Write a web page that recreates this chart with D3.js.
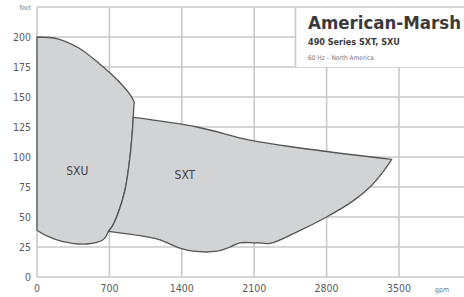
<!DOCTYPE html>
<head>
<meta charset="utf-8">
<style>
body { margin:0; background:#fff; }
svg { font-family: "DejaVu Sans Condensed", "Open Sans", sans-serif; }
.grid line { stroke:#c9c9c9; stroke-width:1.6; }
.area { fill:#d2d3d5; stroke:#555; stroke-width:1.3; stroke-linejoin:round; }
</style>
</head>
<body>
<script src="https://cdn.jsdelivr.net/npm/d3@7"></script>
<script type="text/javascript">

var width = 464, height = 297;

// axis ticks
var xTicks = [0, 700, 1400, 2100, 2800, 3500];
var yTicks = [0, 25, 50, 75, 100, 125, 150, 175, 200];

// SXU outline: left edge, top curve, shared border, bottom
var sxuLeft = [[0,39],[0,200]];
var sxuTop = [[0,200],[200,198.5],[400,191],[600,178],[780,164],[900,152],[940,146]];
var border = [[940,146],[930,133],[925,125],[899,100],[851,72.5],[783,53],[725,42],[690,38]];
var sxuBottom = [[690,38],[638,31],[483,27.5],[251,29.5],[100,34],[0,39]];

// SXT outline: top line to the tip then round the bottom back to the border
var sxtTop = [[930,133],[1547,125],[2060,114],[2543,107.5],[3430,98]];
var sxtBottom = [[3430,98],[3340,87],[3220,75],[3050,63],[2800,50],[2500,37],
  [2253,28],[2150,28.5],[2089,28.5],[1963,28.5],[1866,25],[1740,21.5],[1508,21.5],[1383,24],[1189,31],[1093,33],[690,38]];

var x = d3.scaleLinear().domain([0, 3500]).range([37, 399]);
var y = d3.scaleLinear().domain([0, 225]).range([277, 7]);

var svg = d3.select("body").append("svg")
  .attr("width", width).attr("height", height);

// grid
var grid = svg.append("g").attr("class", "grid");
grid.selectAll(".h").data(yTicks.concat([225])).enter().append("line")
  .attr("x1", x(0)).attr("x2", width)
  .attr("y1", function(d){ return y(d); }).attr("y2", function(d){ return y(d); });
grid.selectAll(".v").data(xTicks).enter().append("line")
  .attr("x1", function(d){ return x(d); }).attr("x2", function(d){ return x(d); })
  .attr("y1", y(225)).attr("y2", y(0));

var line = d3.line().x(function(d){ return x(d[0]); }).y(function(d){ return y(d[1]); })
  .curve(d3.curveCatmullRom.alpha(0.5));

// join several pieces into one closed outline
function outline(parts) {
  return parts.map(function(p, i){ return (i ? "L" : "M") + line(p).slice(1); }).join("") + "Z";
}

svg.append("path").attr("class", "area")
  .attr("d", outline([sxuLeft, sxuTop, border, sxuBottom]));

svg.append("path").attr("class", "area")
  .attr("d", outline([sxtTop, sxtBottom, border.slice(1).reverse()]));

// axes labels
svg.append("g").selectAll("text").data(yTicks).enter().append("text")
  .attr("x", 31).attr("y", function(d){ return y(d) + 4; })
  .attr("text-anchor", "end").attr("fill", "#5a5a5a").style("font-size", "10.5px")
  .text(function(d){ return d; });
svg.append("g").selectAll("text").data(xTicks).enter().append("text")
  .attr("x", function(d){ return x(d); }).attr("y", 292)
  .attr("text-anchor", "middle").attr("fill", "#5a5a5a").style("font-size", "10.5px")
  .text(function(d){ return d; });

svg.append("text").attr("x", 31).attr("y", 10).attr("text-anchor", "end")
  .attr("fill", "#777").style("font-size", "6.5px").text("feet");
svg.append("text").attr("x", 435).attr("y", 292)
  .attr("fill", "#777").style("font-size", "7px").text("gpm");

// region labels
svg.append("text").attr("x", x(390)).attr("y", y(85)).attr("text-anchor", "middle")
  .attr("fill", "#444").style("font-size", "12px").text("SXU");
svg.append("text").attr("x", x(1430)).attr("y", y(82)).attr("text-anchor", "middle")
  .attr("fill", "#444").style("font-size", "12px").text("SXT");

// title box
svg.append("rect").attr("x", 295).attr("y", 8).attr("width", 170).attr("height", y(175) - 8)
  .attr("fill", "#fff");
svg.append("line").attr("x1", 295.5).attr("x2", 295.5).attr("y1", 8).attr("y2", y(175))
  .attr("stroke", "#c9c9c9").attr("stroke-width", 1.6);
svg.append("text").attr("x", 308).attr("y", 29).attr("fill", "#3a3a3a")
  .style("font-size", "18.5px").style("font-weight", "bold").text("American-Marsh");
svg.append("text").attr("x", 308).attr("y", 45).attr("fill", "#3a3a3a")
  .style("font-size", "9px").style("font-weight", "bold").text("490 Series SXT, SXU");
svg.append("text").attr("x", 308).attr("y", 60).attr("fill", "#777")
  .style("font-size", "6.5px").text("60 Hz \u2013 North America");

</script>
</body>
